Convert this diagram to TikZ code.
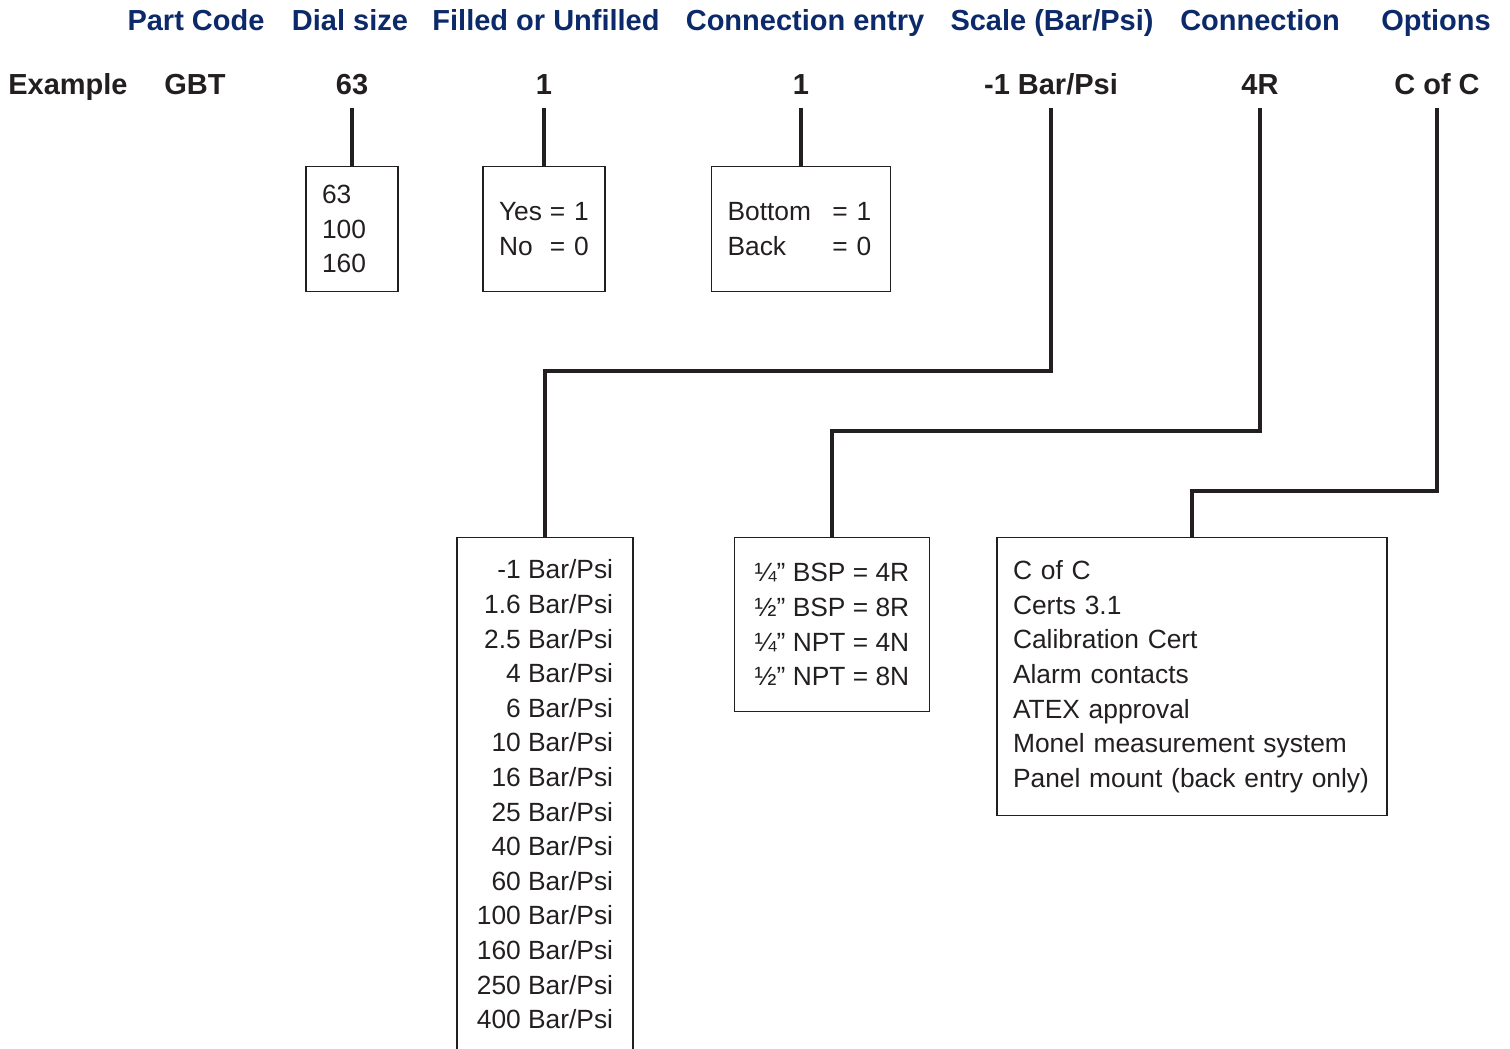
\documentclass[tikz,border=0pt]{standalone}
\usepackage{fontspec}
\setmainfont{Liberation Sans}

\definecolor{codeblue}{RGB}{12,42,106}
\definecolor{codeink}{RGB}{35,31,32}

\begin{document}
\begin{tikzpicture}[x=0.02cm, y=-0.02cm,
    header/.style={font=\fontsize{16.5}{20}\selectfont\bfseries, text=codeblue, anchor=base, inner sep=0pt},
    value/.style={font=\fontsize{16.5}{20}\selectfont\bfseries, text=codeink, anchor=base, inner sep=0pt, text depth=0pt, outer ysep=0.28cm},
    choice/.style={draw=codeink, line width=0.8pt, text=codeink, font=\fontsize{15}{19.7}\selectfont, anchor=north, inner xsep=0.32cm},
    link/.style={draw=codeink, line width=2.5pt}]
    \useasboundingbox (0,0) rectangle (1510,1048);

    % Column headers
    \node[header] (hcode) at (196,31) {Part Code};
    \node[header] (hdial) at (350,31) {Dial size};
    \node[header] (hfill) at (546,31) {Filled or Unfilled};
    \node[header] (hentry) at (805,31) {Connection entry};
    \node[header] (hscale) at (1052,31) {Scale (Bar/Psi)};
    \node[header] (hconn) at (1260,31) {Connection};
    \node[header] (hopt) at (1436,31) {Options};

    % Example code
    \node[value, anchor=base west] (vexample) at (8,94) {Example};
    \node[value] (vcode) at (195,94) {GBT};
    \node[value] (vdial) at (352,94) {63};
    \node[value] (vfill) at (544,94) {1};
    \node[value] (ventry) at (801,94) {1};
    \node[value] (vscale) at (1051,94) {-1 Bar/Psi};
    \node[value] (vconn) at (1260,94) {4R};
    \node[value] (vopt) at (1437,94) {C of C};

    % Choices - top row
    \node[choice, text width=1.2cm, align=left, minimum height=2.5cm] (dialbox) at (352,166) {63\\100\\160};
    \node[choice, text width=1.8cm, align=left, minimum height=2.5cm] (fillbox) at (544,166)
        {\makebox[1.02cm][l]{Yes}= 1\\\makebox[1.02cm][l]{No}= 0};
    \node[choice, text width=2.94cm, align=left, minimum height=2.5cm] (entrybox) at (801,166)
        {\makebox[2.1cm][l]{Bottom}= 1\\\makebox[2.1cm][l]{Back}= 0};

    % Choices - bottom row
    \node[choice, align=right, minimum width=3.52cm, inner ysep=0.44cm] (scalebox) at (545,537)
        {-1 Bar/Psi\\1.6 Bar/Psi\\2.5 Bar/Psi\\4 Bar/Psi\\6 Bar/Psi\\10 Bar/Psi\\16 Bar/Psi\\25 Bar/Psi\\40 Bar/Psi\\60 Bar/Psi\\100 Bar/Psi\\160 Bar/Psi\\250 Bar/Psi\\400 Bar/Psi\strut};
    \node[choice, align=left, minimum width=3.9cm, minimum height=3.48cm] (connbox) at (832,537)
        {¼” BSP = 4R\\½” BSP = 8R\\¼” NPT = 4N\\½” NPT = 8N};
    \node[choice, text width=7.16cm, align=left, minimum height=5.56cm] (optbox) at (1192,537)
        {C of C\\Certs 3.1\\Calibration Cert\\Alarm contacts\\ATEX approval\\Monel measurement system\\Panel mount (back entry only)};

    % Connections
    \draw[link] (vdial.south) -- (dialbox.north);
    \draw[link] (vfill.south) -- (fillbox.north);
    \draw[link] (ventry.south) -- (entrybox.north);
    \draw[link] (vscale.south) -- ++(0,263) -| (scalebox.north);
    \draw[link] (vconn.south) -- ++(0,323) -| (connbox.north);
    \draw[link] (vopt.south) -- ++(0,383) -| (optbox.north);
\end{tikzpicture}
\end{document}
